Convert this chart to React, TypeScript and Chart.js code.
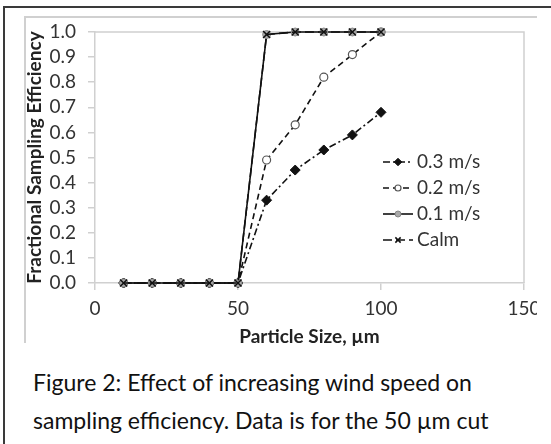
import React, { useEffect, useRef } from 'react';
import { Chart, registerables } from 'chart.js';
import { drawPoint } from 'chart.js/helpers';

Chart.register(...registerables);

// ---- data ----
const particleSizes = [10, 20, 30, 40, 50, 60, 70, 80, 90, 100];
const eff03 = [0, 0, 0, 0, 0, 0.33, 0.45, 0.53, 0.59, 0.68];
const eff02 = [0, 0, 0, 0, 0, 0.49, 0.63, 0.82, 0.91, 1.0];
const eff01 = [0, 0, 0, 0, 0, 0.99, 1.0, 1.0, 1.0, 1.0];
const effCalm = [0, 0, 0, 0, 0, 0.99, 1.0, 1.0, 1.0, 1.0];
const seriesLabels = ['0.3 m/s', '0.2 m/s', '0.1 m/s', 'Calm'];
const xTickValues = [0, 50, 100, 150];
const yTickValues = [0, 0.1, 0.2, 0.3, 0.4, 0.5, 0.6, 0.7, 0.8, 0.9, 1.0];
const xTitle = 'Particle Size, \u00b5m';
const yTitle = 'Fractional Sampling Efficiency';
const captionLines = [
  'Figure 2: Effect of increasing wind speed on',
  'sampling efficiency. Data is for the 50 \u00b5m cut',
];

const FONT = 'Lato, "Open Sans", sans-serif';
const GRAY_LINE = '#d0d0d0';

const toPts = (ys: number[]) => particleSizes.map((x, i) => ({ x, y: ys[i] }));

const frameBoxPlugin = {
  id: 'frameBox',
  beforeDatasetsDraw(chart: any) {
    const { ctx, chartArea } = chart;
    ctx.save();
    ctx.strokeStyle = GRAY_LINE;
    ctx.lineWidth = 1.5;
    ctx.beginPath();
    ctx.moveTo(chartArea.left, chartArea.top);
    ctx.lineTo(chartArea.right, chartArea.top);
    ctx.lineTo(chartArea.right, chartArea.bottom);
    ctx.stroke();
    ctx.restore();
  },
};

const legendPlugin = {
  id: 'insideLegend',
  afterDatasetsDraw(chart: any) {
    const { ctx } = chart;
    const rows = [162, 188, 214, 240];
    const x1 = 383;
    const x2 = 413;
    const tx = 417;
    ctx.save();
    chart.data.datasets.forEach((ds: any, i: number) => {
      const y = rows[i];
      ctx.save();
      ctx.strokeStyle = ds.borderColor;
      ctx.lineWidth = ds.borderWidth;
      ctx.setLineDash(ds.borderDash || []);
      ctx.beginPath();
      ctx.moveTo(x1, y);
      ctx.lineTo(x2, y);
      ctx.stroke();
      ctx.restore();
      ctx.save();
      ctx.fillStyle = ds.pointBackgroundColor;
      ctx.strokeStyle = ds.pointBorderColor;
      ctx.lineWidth = ds.pointBorderWidth;
      drawPoint(ctx, { pointStyle: ds.pointStyle, radius: ds.pointRadius * 0.75, rotation: 0, borderWidth: ds.pointBorderWidth }, (x1 + x2) / 2, y);
      ctx.restore();
      ctx.fillStyle = '#333';
      ctx.font = `19px ${FONT}`;
      ctx.textBaseline = 'middle';
      ctx.textAlign = 'left';
      ctx.fillText(ds.label, tx, y);
    });
    ctx.restore();
  },
};

function App() {
  const ref = useRef<HTMLCanvasElement>(null);
  useEffect(() => {
    if (!ref.current) return;
    const chart = new Chart(ref.current, {
      type: 'line',
      data: {
        datasets: [
          {
            label: seriesLabels[0],
            data: toPts(eff03),
            borderColor: '#111',
            borderWidth: 1.6,
            borderDash: [7, 3, 2, 3],
            pointStyle: 'rectRot',
            pointRadius: 5,
            pointBackgroundColor: '#111',
            pointBorderColor: '#111',
            pointBorderWidth: 1,
            order: 3,
            clip: false,
          },
          {
            label: seriesLabels[1],
            data: toPts(eff02),
            borderColor: '#111',
            borderWidth: 1.6,
            borderDash: [6, 4],
            pointStyle: 'circle',
            pointRadius: 4,
            pointBackgroundColor: '#fff',
            pointBorderColor: '#555',
            pointBorderWidth: 1.2,
            order: 2,
            clip: false,
          },
          {
            label: seriesLabels[2],
            data: toPts(eff01),
            borderColor: '#111',
            borderWidth: 1.6,
            pointStyle: 'circle',
            pointRadius: 4,
            pointBackgroundColor: '#aaa',
            pointBorderColor: '#888',
            pointBorderWidth: 1,
            order: 1,
            clip: false,
          },
          {
            label: seriesLabels[3],
            data: toPts(effCalm),
            borderColor: '#111',
            borderWidth: 1.6,
            borderDash: [9, 4],
            pointStyle: 'crossRot',
            pointRadius: 5,
            pointBackgroundColor: '#111',
            pointBorderColor: '#111',
            pointBorderWidth: 1.5,
            order: 0,
            clip: false,
          },
        ],
      },
      options: {
        animation: false,
        responsive: false,
        maintainAspectRatio: false,
        layout: { padding: { left: 23, top: 32, right: 13, bottom: 0 } },
        plugins: { legend: { display: false }, tooltip: { enabled: false } },
        elements: { line: { tension: 0 } },
        scales: {
          x: {
            type: 'linear',
            min: 0,
            max: 150,
            afterFit: (s: any) => { s.height = 67; s.paddingLeft = 0; s.paddingRight = 0; },
            afterBuildTicks: (s: any) => { s.ticks = xTickValues.map((v) => ({ value: v })); },
            ticks: { color: '#333', font: { family: FONT, size: 19 }, padding: 7, maxRotation: 0, autoSkip: false },
            grid: { drawOnChartArea: false, drawTicks: true, tickLength: 7, color: GRAY_LINE, lineWidth: 1.5 },
            border: { display: true, color: GRAY_LINE, width: 1.5 },
            title: { display: true, text: xTitle, color: '#222', font: { family: FONT, size: 19, weight: 'bold' }, padding: { top: 0, bottom: 2 } },
          },
          y: {
            type: 'linear',
            min: 0,
            max: 1,
            afterFit: (s: any) => { s.width = 72; s.paddingTop = 0; s.paddingBottom = 0; },
            afterBuildTicks: (s: any) => { s.ticks = yTickValues.map((v) => ({ value: v })); },
            ticks: { color: '#333', font: { family: FONT, size: 19 }, padding: 12, autoSkip: false, callback: (v: any) => Number(v).toFixed(1) },
            grid: { drawOnChartArea: false, drawTicks: true, tickLength: 7, color: GRAY_LINE, lineWidth: 1.5 },
            border: { display: true, color: GRAY_LINE, width: 1.5 },
            title: { display: true, text: yTitle, color: '#222', font: { family: FONT, size: 19, weight: 'bold' }, padding: 0 },
          },
        },
      },
      plugins: [frameBoxPlugin, legendPlugin],
    } as any);
    return () => chart.destroy();
  }, []);

  return (
    <div style={{ position: 'fixed', left: 0, top: 0, width: 551, height: 444, background: '#fff', overflow: 'hidden' }}>
      <div style={{ position: 'absolute', left: 4, top: 6, width: 547, height: 2, background: '#3a3a3a' }} />
      <div style={{ position: 'absolute', left: 3, top: 6, width: 2, height: 438, background: '#3a3a3a' }} />
      <div style={{ position: 'absolute', left: 25, top: 16, width: 512, height: 1.5, background: GRAY_LINE }} />
      <div style={{ position: 'absolute', left: 24, top: 16, width: 1.5, height: 327, background: GRAY_LINE }} />
      <canvas ref={ref} width={537} height={350} style={{ position: 'absolute', left: 0, top: 0, width: 537, height: 350 }} />
      {captionLines.map((t, i) => (
        <div
          key={i}
          style={{
            position: 'absolute',
            left: 33,
            top: 367 + i * 38,
            fontFamily: FONT,
            fontSize: 23,
            lineHeight: '30px',
            color: '#111',
            whiteSpace: 'nowrap',
          }}
        >
          {t}
        </div>
      ))}
    </div>
  );
}

export default App;
